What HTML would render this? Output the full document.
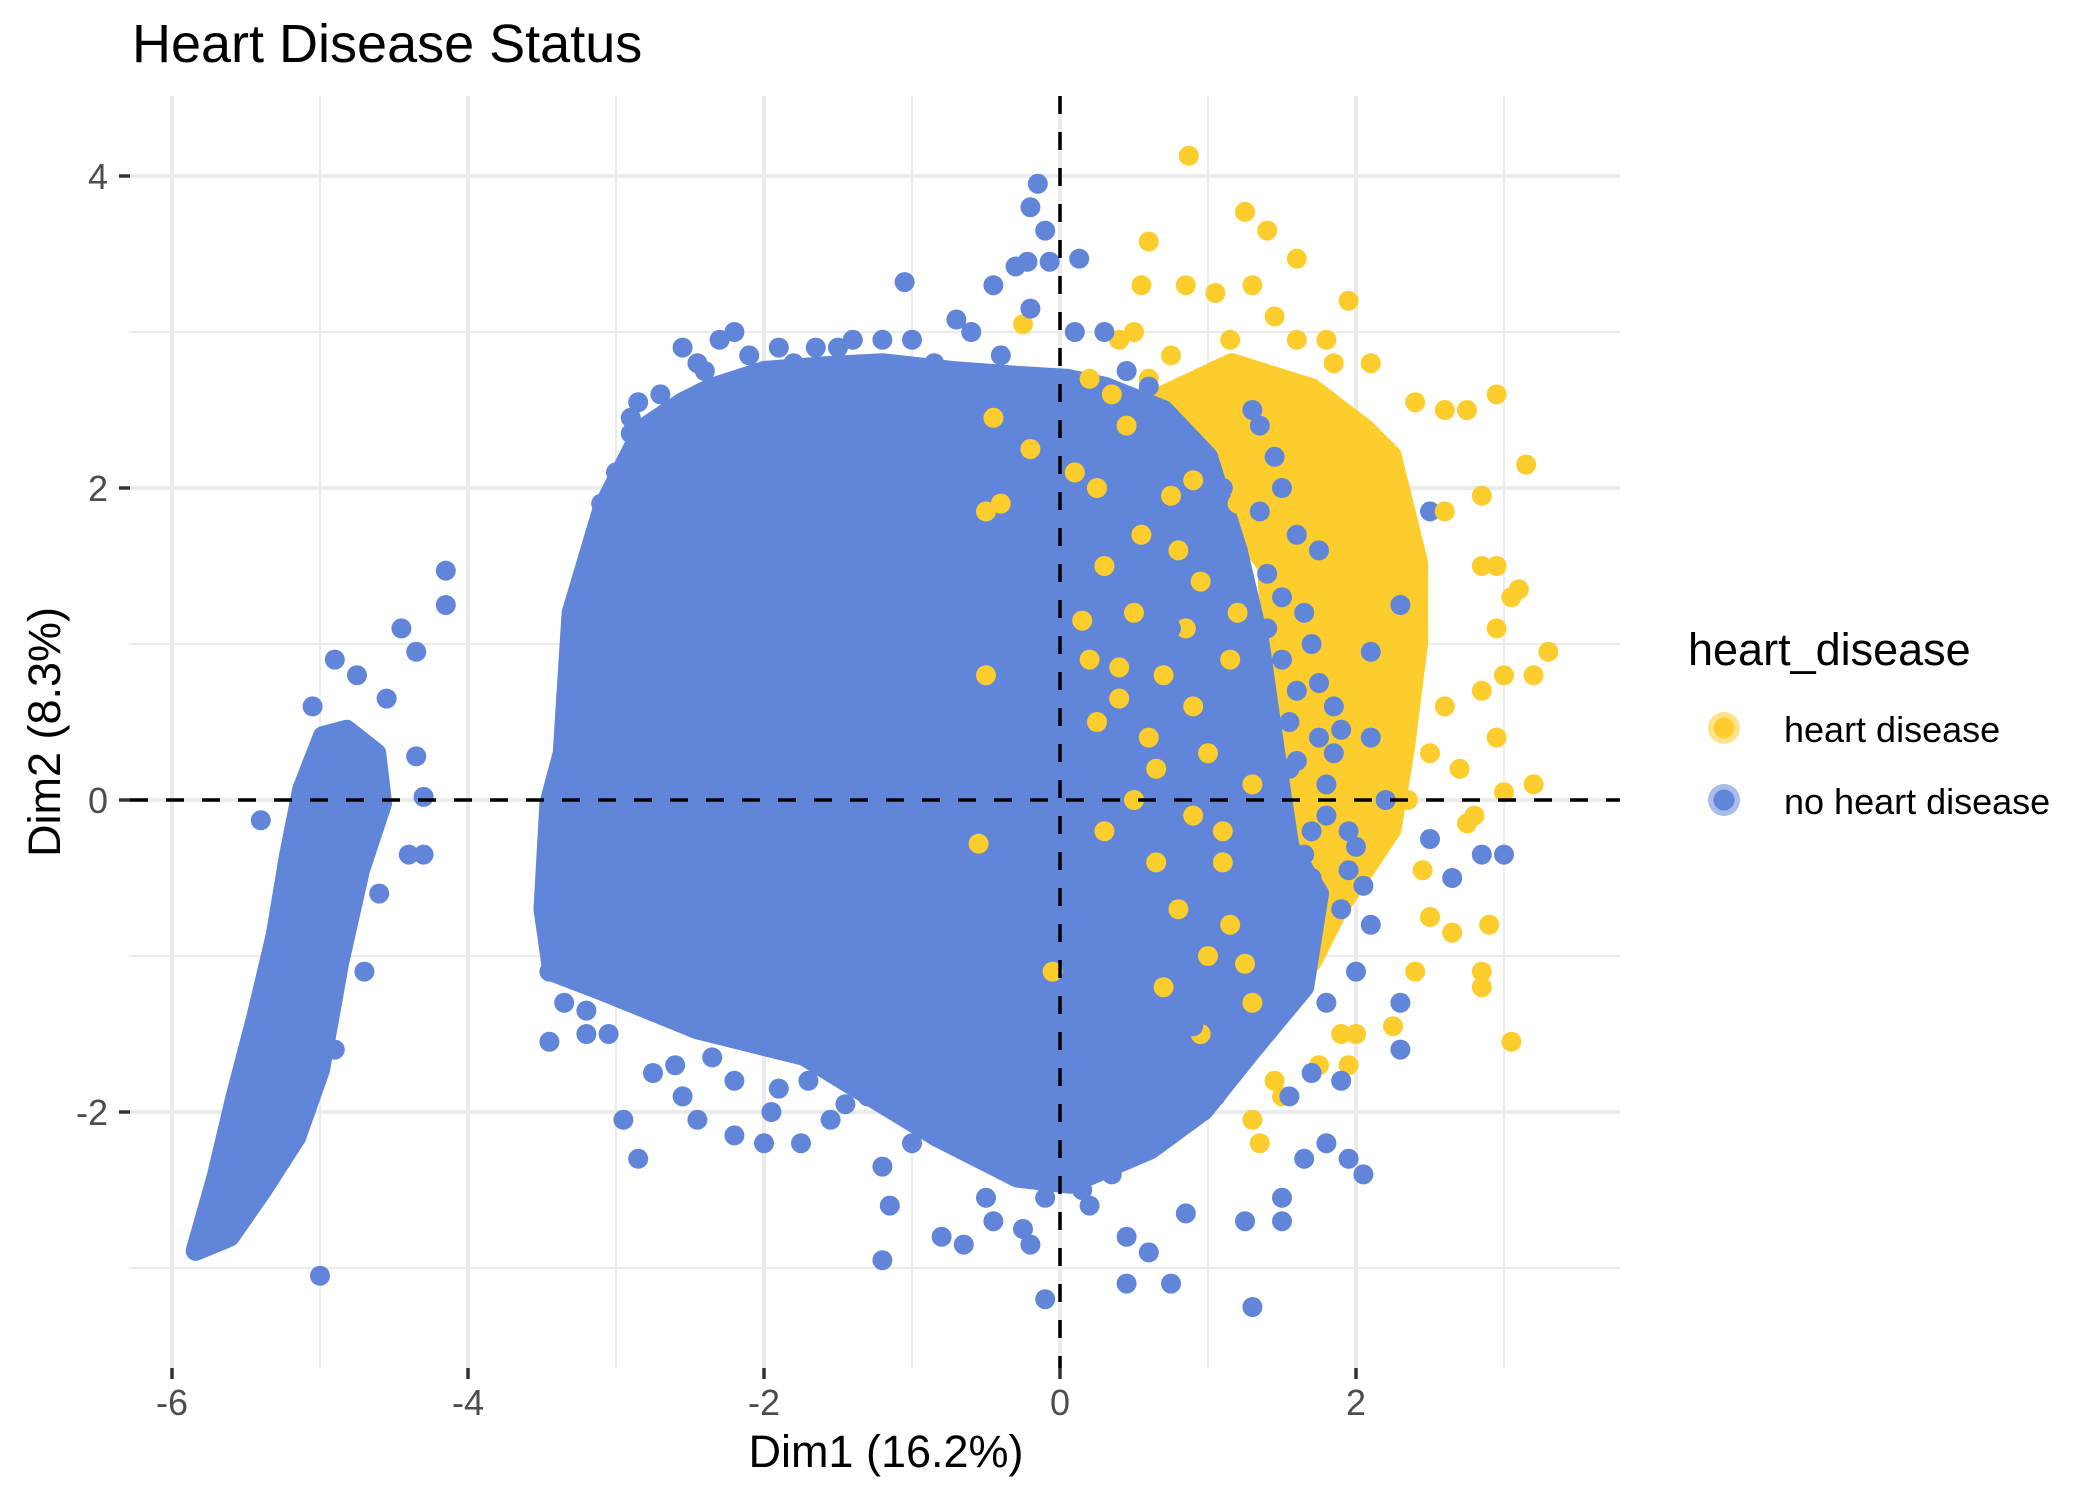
<!DOCTYPE html>
<html><head><meta charset="utf-8"><style>
html,body{margin:0;padding:0;background:#fff;}
svg{display:block;font-family:"Liberation Sans",Arial,sans-serif;}
</style></head><body>
<svg id="chart" width="2099" height="1499" viewBox="0 0 2099 1499" xmlns="http://www.w3.org/2000/svg">
<rect x="0" y="0" width="2099" height="1499" fill="#fff"/>
<g id="grid"></g>
<g id="marks"></g>
<g id="refs"></g>
<g id="axes"></g>
<text x="132" y="62" font-size="54" fill="#000">Heart Disease Status</text>
<text x="886" y="1467" font-size="45" text-anchor="middle" fill="#000">Dim1 (16.2%)</text>
<text transform="translate(60,732) rotate(-90)" font-size="45" text-anchor="middle" fill="#000">Dim2 (8.3%)</text>
<g>
<text x="1688" y="665" font-size="45" fill="#000">heart_disease</text>
<g>
<circle cx="1724" cy="728" r="16" fill="#FCCD2C" fill-opacity="0.55"/>
<circle cx="1724" cy="728" r="10.5" fill="#FCCD2C"/>
<text x="1784" y="742" font-size="36" fill="#000">heart disease</text>
</g>
<g>
<circle cx="1724" cy="800" r="16" fill="#6185D9" fill-opacity="0.55"/>
<circle cx="1724" cy="800" r="10.5" fill="#6185D9"/>
<text x="1784" y="814" font-size="36" fill="#000">no heart disease</text>
</g>
</g>
</svg>
<script>
// ---- data (Dim1, Dim2 coordinates) ----
const xTicks = [-6,-4,-2,0,2];
const xMinor = [-5,-3,-1,1,3];
const yTicks = [-2,0,2,4];
const yMinor = [-3,-1,1,3];
const xTickLabels = ["-6","-4","-2","0","2"];
const yTickLabels = ["-2","0","2","4"];
// dense cloud outlines
const blueBlobX = [-3.36,-3.3,-3.09,-2.82,-2.55,-2.36,-2.0,-1.6,-1.2,-0.73,-0.3,0.05,0.3,0.7,1.0,1.2,1.35,1.45,1.55,1.75,1.65,1.3,0.97,0.61,0.07,-0.29,-0.83,-1.28,-1.73,-2.45,-3.10,-3.43,-3.49,-3.45];
const blueBlobY = [0.3,1.2,1.87,2.38,2.55,2.64,2.75,2.78,2.8,2.75,2.72,2.7,2.65,2.5,2.2,1.6,1.0,0.33,-0.3,-0.6,-1.2,-1.6,-1.99,-2.24,-2.46,-2.42,-2.16,-1.90,-1.64,-1.47,-1.22,-1.10,-0.70,-0.02];
const stripeX = [-5.84,-5.70,-5.57,-5.43,-5.30,-5.21,-5.12,-4.98,-4.82,-4.62,-4.58,-4.73,-4.87,-5.0,-5.16,-5.39,-5.61];
const stripeY = [-2.89,-2.42,-1.90,-1.39,-0.87,-0.36,0.07,0.41,0.45,0.3,-0.02,-0.45,-1.04,-1.73,-2.16,-2.50,-2.80];
const yellowBlobX = [0.6,1.16,1.70,2.06,2.24,2.42,2.42,2.33,2.24,1.88,1.70,1.5,1.4];
const yellowBlobY = [2.55,2.8,2.64,2.38,2.21,1.52,1.01,0.33,-0.19,-0.70,-1.04,-0.6,1.5];
// individual points
const yellowMixX = [0.1,0.25,0.3,0.5,0.8,0.45,0.15,0.7,0.9,0.4,0.65,1.0,0.3,1.1,0.8,1.0,0.95,0.6,0.2,1.2,0.55,0.9,1.15,1.3,0.7,1.25,0.35,0.6,0.85,1.05,0.75,0.95,1.15,0.5,0.25,1.3,1.2,0.85,0.65,1.1,0.4,0.9];
const yellowMixY = [2.1,2.0,1.5,1.2,1.6,2.4,1.15,0.8,0.6,0.65,0.2,0.3,-0.2,-0.4,-0.7,-1.0,-1.5,0.4,0.9,1.2,1.7,2.05,-0.8,-1.3,-1.2,-1.05,2.6,2.7,2.55,2.35,1.95,1.4,0.9,0.0,0.5,0.1,1.9,1.1,-0.4,-0.2,0.85,-0.1];
const blueMixX = [0.9,1.2,1.0,1.5,1.55,1.8,1.2,1.1,1.45,0.75,1.65,1.3,1.55,1.9,2.1,1.2,1.7,1.3,0.9,1.35,1.75,1.4,2.1,1.75,1.85,1.95,2.05,1.65,1.45,1.3,1.55,1.25,1.05,0.9,1.95,1.8,2.0,2.1,1.6,2.3,2.5,1.5,1.6,1.7,1.8,1.45,1.55,1.65,1.9,2.0,1.35,1.5,1.75,1.6,1.4,1.85,1.7,1.55,1.45,2.2];
const blueMixY = [2.25,1.6,1.0,0.9,0.5,0.1,0.5,2.0,2.2,1.1,1.2,-0.3,-0.6,0.45,0.4,0.0,-0.5,2.5,2.3,1.85,1.6,1.45,0.95,0.75,0.3,-0.45,-0.55,-0.35,-0.15,-0.9,-1.1,-1.5,-1.9,-1.45,-0.2,-1.3,-1.1,-0.8,0.25,1.25,1.85,1.3,0.7,1.0,-0.1,0.1,-0.8,-0.9,-0.7,-0.3,2.4,2.0,0.4,1.7,1.1,0.6,-0.2,0.2,-1.3,0.0];
const yellowX = [0.87,1.25,1.4,0.6,1.6,1.3,1.05,0.55,0.85,1.45,1.95,1.15,1.6,1.8,1.85,2.1,2.4,2.6,2.75,2.95,3.15,2.85,2.6,2.85,2.95,3.05,3.1,2.95,3.3,3.2,3.0,2.85,2.95,3.0,3.2,2.7,2.8,2.75,2.6,2.5,2.35,2.45,2.9,2.85,2.85,3.05,2.4,2.25,2.3,2.0,1.9,1.75,1.95,1.5,1.3,1.35,1.45,2.5,2.65,-0.55,-0.05,-0.2,-0.45,-0.5,-0.4,-0.5,0.2,0.4,0.5,0.75,-0.25];
const yellowY = [4.13,3.77,3.65,3.58,3.47,3.3,3.25,3.3,3.3,3.1,3.2,2.95,2.95,2.95,2.8,2.8,2.55,2.5,2.5,2.6,2.15,1.95,1.85,1.5,1.5,1.3,1.35,1.1,0.95,0.8,0.8,0.7,0.4,0.05,0.1,0.2,-0.1,-0.15,0.6,0.3,0.0,-0.45,-0.8,-1.1,-1.2,-1.55,-1.1,-1.45,-1.6,-1.5,-1.5,-1.7,-1.7,-1.9,-2.05,-2.2,-1.8,-0.75,-0.85,-0.28,-1.1,2.25,2.45,1.85,1.9,0.8,2.7,2.95,3.0,2.85,3.05];
const blueX = [-0.15,-0.2,-0.1,-0.07,-0.22,-0.3,0.13,-0.45,-0.2,-1.05,-0.7,0.1,0.3,0.45,0.6,-1.4,-1.65,-1.2,-2.2,-2.3,-2.45,-2.85,-2.9,-2.55,-1.9,-0.85,-0.4,-3.1,-3.2,-3.3,-3.3,-3.45,-3.35,-3.45,-3.2,-2.95,-2.85,-2.55,-2.45,-2.2,-2.0,-1.95,-1.75,-1.55,-1.2,-1.15,-1.2,-0.8,-0.65,-0.45,-0.25,-0.2,-0.1,0.2,0.45,0.45,0.6,0.75,0.85,1.25,1.3,1.5,1.5,1.65,1.8,1.95,2.05,1.9,1.7,1.55,2.3,2.3,2.65,2.5,2.85,3.0,-4.15,-4.15,-4.45,-4.35,-4.9,-4.75,-5.05,-4.55,-4.35,-4.3,-4.3,-5.4,-5.1,-5.0,-4.7,-4.6,-5.2,-4.9,-4.4,-2.7,-2.4,-2.1,-1.8,-1.5,-1.0,-0.6,-2.9,-3.0,-1.3,-0.9,-2.6,-2.2,-1.7,-0.5,-0.1,0.15,0.35,-3.05,-3.2,-2.75,-2.35,-1.9,-1.45,-1.0];
const blueY = [3.95,3.8,3.65,3.45,3.45,3.42,3.47,3.3,3.15,3.32,3.08,3.0,3.0,2.75,2.65,2.95,2.9,2.95,3.0,2.95,2.8,2.55,2.35,2.9,2.9,2.8,2.85,1.9,1.5,0.7,0.3,-1.1,-1.3,-1.55,-1.5,-2.05,-2.3,-1.9,-2.05,-2.15,-2.2,-2.0,-2.2,-2.05,-2.35,-2.6,-2.95,-2.8,-2.85,-2.7,-2.75,-2.85,-3.2,-2.6,-2.8,-3.1,-2.9,-3.1,-2.65,-2.7,-3.25,-2.55,-2.7,-2.3,-2.2,-2.3,-2.4,-1.8,-1.75,-1.9,-1.6,-1.3,-0.5,-0.25,-0.35,-0.35,1.47,1.25,1.1,0.95,0.9,0.8,0.6,0.65,0.28,0.02,-0.35,-0.13,0.1,-3.05,-1.1,-0.6,-1.8,-1.6,-0.35,2.6,2.75,2.85,2.8,2.9,2.95,3.0,2.45,2.1,-1.9,-2.0,-1.7,-1.8,-1.8,-2.55,-2.55,-2.5,-2.4,-1.5,-1.35,-1.75,-1.65,-1.85,-1.95,-2.2];

// ---- scales ----
const PL=130, PR=1620, PT=96, PB=1368;
const X0=1060, XU=148, Y0=800, YU=156;
function sx(v){return X0+v*XU;}
function sy(v){return Y0-v*YU;}
const NS='http://www.w3.org/2000/svg';
const BLUE='#6185D9', YEL='#FCCD2C';
function mk(tag,attrs,parent){const e=document.createElementNS(NS,tag);for(const k in attrs)e.setAttribute(k,attrs[k]);parent.appendChild(e);return e;}

const grid=document.getElementById('grid');
xMinor.forEach(v=>{const l=mk('line',{x1:sx(v),x2:sx(v),y1:PT,y2:PB,stroke:'#EBEBEB','stroke-width':2},grid);

});
yMinor.forEach(v=>{const l=mk('line',{x1:PL,x2:PR,y1:sy(v),y2:sy(v),stroke:'#EBEBEB','stroke-width':2},grid);

});
xTicks.forEach(v=>{const l=mk('line',{x1:sx(v),x2:sx(v),y1:PT,y2:PB,stroke:'#EBEBEB','stroke-width':4},grid);

});
yTicks.forEach(v=>{const l=mk('line',{x1:PL,x2:PR,y1:sy(v),y2:sy(v),stroke:'#EBEBEB','stroke-width':4},grid);

});

const marks=document.getElementById('marks');
function poly(xs,ys,color,name){
  const pts=xs.map((x,i)=>sx(x)+','+sy(ys[i])).join(' ');
  const p=mk('polygon',{points:pts,fill:color,stroke:color,'stroke-width':20,'stroke-linejoin':'round'},marks);
  
  
}
function pts(xs,ys,color,name){
  xs.forEach((x,i)=>{const c=mk('circle',{cx:sx(x),cy:sy(ys[i]),r:10,fill:color},marks);
  
  });
}
poly(yellowBlobX,yellowBlobY,YEL,'heart-disease-dense-cloud');
poly(blueBlobX,blueBlobY,BLUE,'no-heart-disease-dense-cloud');
poly(stripeX,stripeY,BLUE,'no-heart-disease-left-cluster');
pts(yellowMixX,yellowMixY,YEL,'heart-disease-point');
pts(blueMixX,blueMixY,BLUE,'no-heart-disease-point');
pts(yellowX,yellowY,YEL,'heart-disease-point');
pts(blueX,blueY,BLUE,'no-heart-disease-point');

const refs=document.getElementById('refs');
let r1=mk('line',{x1:PL,x2:PR,y1:sy(0),y2:sy(0),stroke:'#000','stroke-width':3.5,'stroke-dasharray':'18 18'},refs);


let r2=mk('line',{x1:sx(0),x2:sx(0),y1:PT,y2:PB,stroke:'#000','stroke-width':3.5,'stroke-dasharray':'18 18'},refs);



const axes=document.getElementById('axes');
xTicks.forEach((v,i)=>{
  const t=mk('line',{x1:sx(v),x2:sx(v),y1:PB,y2:PB+11,stroke:'#333','stroke-width':3.5},axes);
  
  
  const tx=mk('text',{x:sx(v),y:1415,'font-size':36,'text-anchor':'middle',fill:'#4D4D4D'},axes);
  tx.textContent=xTickLabels[i];
  
  
});
yTicks.forEach((v,i)=>{
  const t=mk('line',{x1:PL-11,x2:PL,y1:sy(v),y2:sy(v),stroke:'#333','stroke-width':3.5},axes);
  
  
  const tx=mk('text',{x:108,y:sy(v)+13,'font-size':36,'text-anchor':'end',fill:'#4D4D4D'},axes);
  tx.textContent=yTickLabels[i];
  
  
});
</script>
</body></html>
